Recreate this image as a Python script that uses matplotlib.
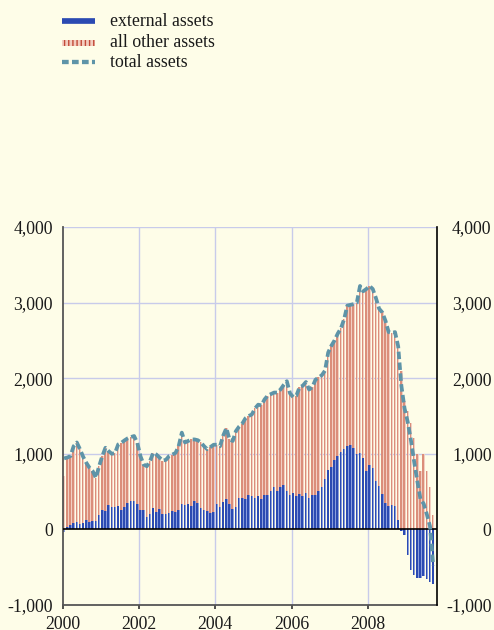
import numpy as np
import matplotlib
matplotlib.use("Agg")
import matplotlib.pyplot as plt
from matplotlib.patches import Rectangle
from matplotlib.lines import Line2D

# ---------------- data (monthly, Jan 2000 .. Sep 2009) ----------------
start_year = 2000
external_assets = [
    -40, 27, 53, 84, 93, 75, 80, 120, 97, 106, 110, 195,
    261, 239, 327, 292, 292, 310, 261, 292, 350, 372, 372, 336,
    261, 252, 164, 208, 279, 234, 275, 204, 210, 217, 239, 230,
    252, 332, 319, 341, 310, 376, 354, 288, 252, 239, 217, 230,
    332, 297, 368, 398, 341, 270, 301, 420, 411, 398, 451, 445,
    416, 447, 407, 451, 460, 513, 557, 504, 566, 593, 513, 451,
    478, 438, 469, 438, 478, 416, 451, 460, 504, 557, 672, 792,
    823, 912, 969, 1027, 1058, 1102, 1115, 1071, 1000, 1013, 947, 770,
    858, 814, 646, 571, 469, 350, 305, 328, 314, 128, -20, -71,
    -345, -535, -602, -637, -645, -620, -660, -690, -726,
]
all_other_assets = [
    704, 923, 917, 1016, 1057, 985, 880, 760, 717, 664, 571, 641,
    708, 841, 708, 708, 718, 814, 885, 886, 855, 850, 863, 810,
    708, 606, 672, 695, 734, 756, 675, 706, 710, 753, 751, 780,
    848, 948, 831, 829, 880, 814, 826, 862, 848, 821, 873, 890,
    788, 803, 872, 942, 849, 900, 999, 940, 989, 1072, 1049, 1075,
    1184, 1203, 1233, 1269, 1310, 1277, 1253, 1306, 1284, 1317, 1447, 1349,
    1272, 1332, 1411, 1462, 1472, 1434, 1429, 1520, 1506, 1483, 1428, 1548,
    1607, 1588, 1621, 1633, 1722, 1858, 1855, 1909, 2000, 2207, 2203, 2410,
    2362, 2366, 2414, 2349, 2401, 2410, 2305, 2272, 2296, 2292, 2100, 1700,
    1570, 1412, 1212, 992, 770, 992, 770, 558, 195,
]
total_assets = [
    940, 950, 970, 1100, 1150, 1060, 960, 880, 814, 770, 681, 836,
    969, 1080, 1035, 1000, 1010, 1124, 1146, 1178, 1205, 1222, 1235, 1146,
    969, 858, 836, 903, 1013, 990, 950, 910, 920, 970, 990, 1010,
    1100, 1280, 1150, 1170, 1190, 1190, 1180, 1150, 1100, 1060, 1090, 1120,
    1120, 1100, 1240, 1340, 1190, 1170, 1300, 1360, 1400, 1470, 1500, 1520,
    1600, 1650, 1640, 1720, 1770, 1790, 1810, 1810, 1850, 1910, 1960, 1800,
    1750, 1770, 1880, 1900, 1950, 1850, 1880, 1980, 2010, 2040, 2100, 2340,
    2430, 2500, 2590, 2660, 2780, 2960, 2970, 2980, 3000, 3220, 3150, 3180,
    3220, 3180, 3060, 2920, 2870, 2760, 2610, 2600, 2610, 2420, 1900, 1600,
    1420, 1180, 900, 640, 400, 340, 200, 40, -480,
]
y_ticks = [-1000, 0, 1000, 2000, 3000, 4000]
y_tick_labels = ["-1,000", "0", "1,000", "2,000", "3,000", "4,000"]
x_ticks = [2000, 2002, 2004, 2006, 2008]
x_tick_labels = ["2000", "2002", "2004", "2006", "2008"]
legend_labels = ["external assets", "all other assets", "total assets"]

# ---------------- style ----------------
BG = "#FEFDE8"
BLUE = "#2B4AB2"
BLUE_LIGHT = "#8A9EDC"
RED = "#DB8E7A"
RED_LIGHT = "#F3CFC2"
LINE = "#5E94A8"
GRID = "#C8CBEA"
FONT = "Liberation Serif"
FS = 12.8
TXT = "#1A1A1A"

W, H = 494, 630
fig = plt.figure(figsize=(W / 100, H / 100), dpi=100, facecolor=BG)
ax = fig.add_axes([62.5 / W, 1 - 605 / H, (436.7 - 62.5) / W, (605 - 227) / H])
ax.set_facecolor(BG)

ext = np.array(external_assets, dtype=float)
oth = np.array(all_other_assets, dtype=float)
tot = np.array(total_assets, dtype=float)
n = len(ext)
t = start_year + (np.arange(n) + 0.5) / 12.0
base = np.clip(ext, 0, None)
w = 0.78 / 12.0

# grid
for yv in [1000, 2000, 3000, 4000]:
    ax.axhline(yv, color=GRID, lw=1.0, zorder=0.5)
for xv in x_ticks[1:]:
    ax.axvline(xv, color=GRID, lw=1.0, zorder=0.5)

# bars
ax.bar(t, ext, width=w, color=BLUE, lw=0, zorder=2)
ax.bar(t + 0.32 * w, ext, width=0.36 * w, color=BLUE_LIGHT, lw=0, zorder=2.1)
ax.bar(t, oth, bottom=base, width=w, color=RED, lw=0, zorder=2)
ax.bar(t + 0.3 * w, oth, bottom=base, width=0.4 * w, color=RED_LIGHT, lw=0, zorder=2.1)

# zero line
ax.axhline(0, color="black", lw=1.2, zorder=3)

# total line
ax.plot(t, tot, color=LINE, lw=2.7, linestyle=(0, (2.0, 0.9)), zorder=4)

ax.set_xlim(2000, 2009.8)
ax.set_ylim(-1000, 4000)

ax.spines["top"].set_visible(False)
ax.spines["right"].set_visible(False)
ax.spines["left"].set_color("#555555")
ax.spines["left"].set_linewidth(1.3)
ax.spines["bottom"].set_color("#555555")
ax.spines["bottom"].set_linewidth(1.3)

ax.set_xticks(x_ticks)
ax.set_xticklabels(x_tick_labels, fontsize=FS, family=FONT, color=TXT)
ax.tick_params(axis="x", direction="out", length=3, width=1.2, color="#333333", pad=5)
ax.set_yticks(y_ticks)
ax.set_yticklabels(y_tick_labels, fontsize=FS, family=FONT, color=TXT)
ax.tick_params(axis="y", length=0, pad=7)

# right-hand axis with the same scale, labels right-aligned near the figure edge
ax2 = ax.twinx()
ax2.set_ylim(ax.get_ylim())
ax2.set_yticks(y_ticks)
ax2.set_yticklabels(y_tick_labels, fontsize=FS, family=FONT, color=TXT, ha="right")
ax2.tick_params(axis="y", length=0, pad=39.5)
for side in ["top", "left", "bottom"]:
    ax2.spines[side].set_visible(False)
ax2.spines["right"].set_color("black")
ax2.spines["right"].set_linewidth(1.2)

# ---------------- manual legend ----------------
def fx(px):
    return px / W

def fy(py):
    return 1 - py / H

fig.add_artist(Line2D([fx(62), fx(95)], [fy(21.2), fy(21.2)], transform=fig.transFigure,
                      color=BLUE, lw=4.1, solid_capstyle="butt"))
plt.rcParams["hatch.linewidth"] = 1.0
fig.add_artist(Rectangle((fx(62), fy(46)), fx(95) - fx(62), fy(40) - fy(46),
                         transform=fig.transFigure, facecolor="#F3CDBF",
                         edgecolor="#C24A38", hatch="||||", lw=0))
fig.add_artist(Line2D([fx(62), fx(95)], [fy(62.2), fy(62.2)], transform=fig.transFigure,
                      color=LINE, lw=3.1, linestyle=(0, (1.55, 0.77))))
for lab, by in zip(legend_labels, [26.5, 46.7, 66.7]):
    fig.text(fx(110), fy(by), lab, ha="left", va="baseline", fontsize=FS,
             family=FONT, color=TXT)

fig.savefig("out.png", dpi=100, facecolor=BG)
